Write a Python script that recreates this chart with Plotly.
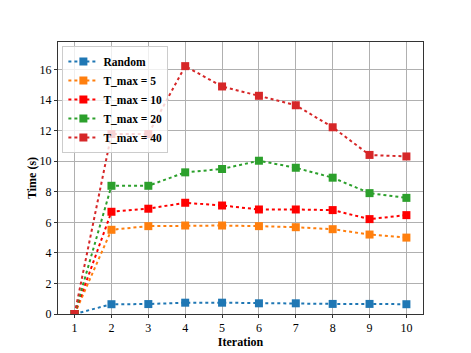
import plotly.graph_objects as go

iterations = [1, 2, 3, 4, 5, 6, 7, 8, 9, 10]

random_times = [0.0, 0.64, 0.65, 0.74, 0.74, 0.70, 0.70, 0.66, 0.66, 0.64]
tmax5_times = [0.0, 5.51, 5.75, 5.79, 5.79, 5.75, 5.68, 5.55, 5.20, 5.00]
tmax10_times = [0.0, 6.69, 6.89, 7.28, 7.10, 6.84, 6.84, 6.80, 6.21, 6.47]
tmax20_times = [0.0, 8.39, 8.39, 9.27, 9.49, 10.03, 9.57, 8.92, 7.91, 7.60]
tmax40_times = [0.0, 11.78, 11.78, 16.22, 14.89, 14.28, 13.66, 12.22, 10.41, 10.31]

series_names = ["Random", "T_max = 5", "T_max = 10", "T_max = 20", "T_max = 40"]
series_values = [random_times, tmax5_times, tmax10_times, tmax20_times, tmax40_times]
series_colors = ["#1f77b4", "#ff7f0e", "#ff0000", "#2ca02c", "#d62728"]

font_family = "Liberation Serif, Times New Roman, serif"

fig = go.Figure()
for name, vals, col in zip(series_names, series_values, series_colors):
    fig.add_trace(go.Scatter(
        x=iterations, y=vals, name="<b>" + name + "</b>", mode="lines+markers",
        line=dict(color=col, width=2, dash="dot"),
        marker=dict(symbol="square", size=8, color=col),
    ))

axis_common = dict(
    showgrid=True, gridcolor="#b0b0b0", gridwidth=1,
    showline=True, linecolor="#333333", linewidth=1, mirror=True,
    ticks="outside", ticklen=3, tickcolor="#333333",
    tickfont=dict(family=font_family, size=12, color="black"),
    tickprefix="<b>", ticksuffix="</b>",
    zeroline=False,
)

# page body has an 8px default margin, so margins are shifted to compensate
fig.update_layout(
    width=471, height=353,
    margin=dict(l=50, r=56, t=34, b=47),
    paper_bgcolor="white", plot_bgcolor="white",
    font=dict(family=font_family, color="black"),
    xaxis=dict(axis_common, range=[0.55, 10.45], tickvals=iterations,
               title=dict(text="<b>Iteration</b>", font=dict(size=12), standoff=0)),
    yaxis=dict(axis_common, range=[0, 17.8], tickvals=[0, 2, 4, 6, 8, 10, 12, 14, 16],
               title=dict(text="<b>Time (s)</b>", font=dict(size=12), standoff=0)),
    legend=dict(x=0.012, y=0.985, xanchor="left", yanchor="top",
                bgcolor="rgba(255,255,255,0.8)", bordercolor="#cccccc", borderwidth=1,
                font=dict(family=font_family, size=11.5, color="black"),
                tracegroupgap=0, itemwidth=30),
)

fig.write_html("out.html")
